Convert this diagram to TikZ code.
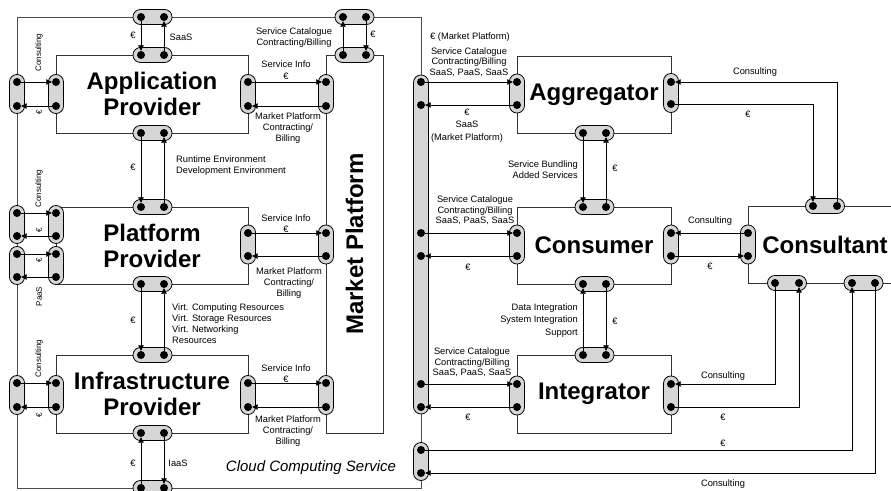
\documentclass[tikz,border=0pt]{standalone}
\usepackage{fontspec}
\setmainfont{Liberation Sans}
\usetikzlibrary{arrows.meta}
\newcommand\myBig{\fontsize{24}{26}\selectfont\bfseries}
\newcommand\mySmall{\fontsize{9.3}{11}\selectfont}
\newcommand\myTiny{\fontsize{8}{9}\selectfont}
\begin{document}
\begin{tikzpicture}[x=1pt,y=-1pt,
  frame/.style={draw=black!70, line width=0.8pt},
  box/.style={draw=black!80, line width=0.8pt, fill=white, inner sep=0pt, font=\myBig, align=center},
  port/.style={draw=black, line width=0.8pt, fill=black!16, rounded corners=7.4pt, inner sep=0pt},
  hport/.style={port, minimum width=39, minimum height=15},
  vport/.style={port, minimum width=15, minimum height=39},
  dot/.style={circle, fill=black, inner sep=0pt, minimum size=8},
  arr/.style={draw=black, line width=0.8pt, -{Triangle[length=5.5pt,width=5.5pt]}},
  lbl/.style={font=\mySmall, align=center, inner sep=0pt},
  rlbl/.style={font=\myTiny, rotate=90, inner sep=0pt}]
\useasboundingbox (0,0) rectangle (891,490);
\clip (0,0) rectangle (891,490);
% outer frame
\draw[frame] (17,17) rectangle (421,488);
% boxes
\node[box, minimum width=192, minimum height=78] (ap) at (152,94) {Application\\Provider};
\node[box, minimum width=192, minimum height=77] (pp) at (152,245.5) {Platform\\Provider};
\node[box, minimum width=192, minimum height=78] (ip) at (152,394) {Infrastructure\\Provider};
\node[box, rotate=90, minimum width=378, minimum height=57] (mp) at (354.5,244) {Market Platform};
\node[box, minimum width=154, minimum height=77] (ag) at (594,94.5) {Aggregator};
\node[box, minimum width=154, minimum height=77] (co) at (594,245.5) {Consumer};
\node[box, minimum width=154, minimum height=78] (ig) at (594,394) {Integrator};
\node[box, minimum width=154, minimum height=77] (cs) at (825,244.5) {Consultant};
% ports left
\node[hport] (pfT) at (152.5,17) {};
\node[hport] (papT) at (152.5,55) {};
\node[hport] (papB) at (152.5,133) {};
\node[hport] (pppT) at (152.5,207) {};
\node[hport] (pppB) at (152.5,284) {};
\node[hport] (pipT) at (152.5,355) {};
\node[hport] (pipB) at (152.5,433) {};
\node[hport] (pfB) at (152.5,488) {};
\node[hport] (pmpT) at (354.5,55) {};
\node[hport] (pfM) at (354.5,17) {};
\node[vport] (poA) at (17,94) {};
\node[vport] (papL) at (56,94) {};
\node[vport] (papR) at (248,94) {};
\node[vport] (pm1) at (326,94) {};
\node[vport, minimum height=38] (poP1) at (17,224.5) {};
\node[vport, minimum height=38] (poP2) at (17,265.5) {};
\node[vport, minimum height=38] (ppL1) at (56,224.5) {};
\node[vport, minimum height=38] (ppL2) at (56,265.5) {};
\node[vport] (pppR) at (248,244.5) {};
\node[vport] (pm2) at (326,244.5) {};
\node[vport] (poI) at (17,395) {};
\node[vport] (pipL) at (56,395) {};
\node[vport] (pipR) at (248,395) {};
\node[vport] (pm3) at (326,395) {};
% ports right
\node[vport, minimum height=339] (pL) at (421,244.5) {};
\node[vport, minimum height=38] (pS) at (421,461.5) {};
\node[vport] (pagL) at (517,93.5) {};
\node[vport] (pagR) at (671,93) {};
\node[hport] (pagB) at (594.5,133) {};
\node[hport] (pcoT) at (594.5,207) {};
\node[vport] (pcoL) at (517,244.5) {};
\node[vport] (pcoR) at (671,244.5) {};
\node[hport] (pcoB) at (594.5,284) {};
\node[hport] (pigT) at (594.5,355) {};
\node[vport] (pigL) at (517,395.5) {};
\node[vport] (pigR) at (671,395.5) {};
\node[hport] (pcsT) at (825,206) {};
\node[vport] (pcsL) at (748,244.5) {};
\node[hport] (pcsB1) at (787,283) {};
\node[hport] (pcsB2) at (863.5,283) {};
% dots left
\foreach \n/\x/\y in {fT1/141/17, fT2/164/17, aT1/141/55, aT2/164/55, aB1/141/133, aB2/164/133,
  pT1/141/207, pT2/164/207, pB1/141/284, pB2/164/284, iT1/141/355, iT2/164/355,
  iB1/141/433, iB2/164/433, fB1/141/488, fB2/164/488, mT1/343/55, mT2/366/55,
  fM1/343/17, fM2/366/17, oA1/17/82, oA2/17/106, aL1/56/82, aL2/56/106,
  aR1/248/82, aR2/248/106, m1a/326/82, m1b/326/106,
  oP1/17/213, oP2/17/236, oP3/17/254, oP4/17/277,
  pL1/56/213, pL2/56/236, pL3/56/254, pL4/56/277,
  pR1/248/233, pR2/248/256, m2a/326/233, m2b/326/256,
  oI1/17/383, oI2/17/407, iL1/56/383, iL2/56/407,
  iR1/248/383, iR2/248/407, m3a/326/383, m3b/326/407}
  {\node[dot] (\n) at (\x,\y) {};}
% dots right
\foreach \n/\x/\y in {L1/421/82, L2/421/105, L3/421/233, L4/421/256, L5/421/384, L6/421/407,
  S1/421/450, S2/421/473, gL1/517/82, gL2/517/105, gR1/671/82, gR2/671/104,
  gB1/583/133, gB2/606/133, cT1/583/207, cT2/606/207, cL1/517/233, cL2/517/256,
  cR1/671/233, cR2/671/256, cB1/583/284, cB2/606/284, nT1/583/355, nT2/606/355,
  nL1/517/384, nL2/517/407, nR1/671/384, nR2/671/407, sT1/813/206, sT2/837/206,
  sL1/748/233, sL2/748/256, sB1/775/283, sB2/799/283, sB3/852/283, sB4/875/283}
  {\node[dot] (\n) at (\x,\y) {};}
% connectors left
\draw[arr] (fT1) -- (aT1);
\draw[arr] (aT2) -- (fT2);
\draw[arr] (oA1) -- (aL1);
\draw[arr] (aL2) -- (oA2);
\draw[arr] (aR1) -- (m1a);
\draw[arr] (m1b) -- (aR2);
\draw[arr] (aB1) -- (pT1);
\draw[arr] (pT2) -- (aB2);
\draw[arr] (oP1) -- (pL1);
\draw[arr] (pL2) -- (oP2);
\draw[arr] (oP3) -- (pL3);
\draw[arr] (pL4) -- (oP4);
\draw[arr] (pR1) -- (m2a);
\draw[arr] (m2b) -- (pR2);
\draw[arr] (pB1) -- (iT1);
\draw[arr] (iT2) -- (pB2);
\draw[arr] (oI1) -- (iL1);
\draw[arr] (iL2) -- (oI2);
\draw[arr] (iR1) -- (m3a);
\draw[arr] (m3b) -- (iR2);
\draw[arr] (fB1) -- (iB1);
\draw[arr] (iB2) -- (fB2);
\draw[arr] (mT1) -- (fM1);
\draw[arr] (fM2) -- (mT2);
% connectors right
\draw[arr] (L1) -- (gL1);
\draw[arr] (gL2) -- (L2);
\draw[arr] (L3) -- (cL1);
\draw[arr] (cL2) -- (L4);
\draw[arr] (L5) -- (nL1);
\draw[arr] (nL2) -- (L6);
\draw[arr] (gB1) -- (cT1);
\draw[arr] (cT2) -- (gB2);
\draw[arr] (nT1) -- (cB1);
\draw[arr] (cB2) -- (nT2);
\draw[arr] (sT2) |- (gR1);
\draw[arr] (gR2) -| (sT1);
\draw[arr] (sL1) -- (cR1);
\draw[arr] (cR2) -- (sL2);
\draw[arr] (sB1) |- (nR1);
\draw[arr] (nR2) -| (sB2);
\draw[arr] (S1) -| (sB3);
\draw[arr] (sB4) |- (S2);
% labels left
\node[lbl] (la1) at (133,35) {€};
\node[lbl] (la2) at (181,37) {SaaS};
\node[lbl] (la3) at (294,37.5) {Service Catalogue\\Contracting/Billing};
\node[lbl] (la4) at (373,34) {€};
\node[lbl, font=\fontsize{9.3}{12}\selectfont] (la5) at (286,70) {Service Info\\€};
\node[lbl] (la6) at (288,128) {Market Platform\\Contracting/\\Billing};
\node[lbl] (la7) at (133,167) {€};
\node[lbl, align=left, anchor=west] (la8) at (176,165.5) {Runtime Environment\\Development Environment};
\node[lbl] (la9) at (286,224) {Service Info\\€};
\node[lbl] (la10) at (289,283) {Market Platform\\Contracting/\\Billing};
\node[lbl] (la11) at (133,320) {€};
\node[lbl, align=left, anchor=west] (la12) at (172,324) {Virt. Computing Resources\\Virt. Storage Resources\\Virt. Networking\\Resources};
\node[lbl] (la13) at (286,373.5) {Service Info\\€};
\node[lbl] (la14) at (288,431) {Market Platform\\Contracting/\\Billing};
\node[lbl] (la15) at (133,463) {€};
\node[lbl] (la16) at (178,463) {IaaS};
\node[lbl, font=\fontsize{15}{18}\selectfont\itshape] (la17) at (311,468) {Cloud Computing Service};
% rotated labels
\node[rlbl] (r1) at (39,52.5) {Consulting};
\node[rlbl] (r2) at (39,112.5) {€};
\node[rlbl] (r3) at (39,188.5) {Consulting};
\node[rlbl] (r4) at (39,230) {€};
\node[rlbl] (r5) at (39,260) {€};
\node[rlbl] (r6) at (39,296.5) {PaaS};
\node[rlbl] (r7) at (39,358.5) {Consulting};
\node[rlbl] (r8) at (39,415) {€};
% labels right
\node[lbl] (lb1) at (470,37) {€ (Market Platform)};
\node[lbl, font=\fontsize{9.3}{10.3}\selectfont] (lb2) at (469,62) {Service Catalogue\\Contracting/Billing\\SaaS, PaaS, SaaS};
\node[lbl, font=\fontsize{9.3}{12.5}\selectfont] (lb3) at (467,125.5) {€\\SaaS\\(Market Platform)};
\node[lbl, font=\fontsize{9.3}{10.5}\selectfont] (lb4) at (475,210.5) {Service Catalogue\\Contracting/Billing\\SaaS, PaaS, SaaS};
\node[lbl] (lb5) at (468,267) {€};
\node[lbl, align=right, anchor=east] (lb6) at (578,169.5) {Service Bundling\\Added Services};
\node[lbl] (lb7) at (615,168) {€};
\node[lbl, align=right, anchor=east, font=\fontsize{9.3}{12.5}\selectfont] (lb8) at (578,320.5) {Data Integration\\System Integration\\Support};
\node[lbl] (lb9) at (615,321) {€};
\node[lbl, font=\fontsize{9.3}{10.5}\selectfont] (lb10) at (472,362.5) {Service Catalogue\\Contracting/Billing\\SaaS, PaaS, SaaS};
\node[lbl] (lb11) at (468,417) {€};
\node[lbl] (lb12) at (755,72) {Consulting};
\node[lbl] (lb13) at (748,114) {€};
\node[lbl] (lb14) at (710,221.5) {Consulting};
\node[lbl] (lb15) at (710,266) {€};
\node[lbl] (lb16) at (723,376) {Consulting};
\node[lbl] (lb17) at (723,417) {€};
\node[lbl] (lb18) at (723,443) {€};
\node[lbl] (lb19) at (723,484) {Consulting};
\end{tikzpicture}
\end{document}
